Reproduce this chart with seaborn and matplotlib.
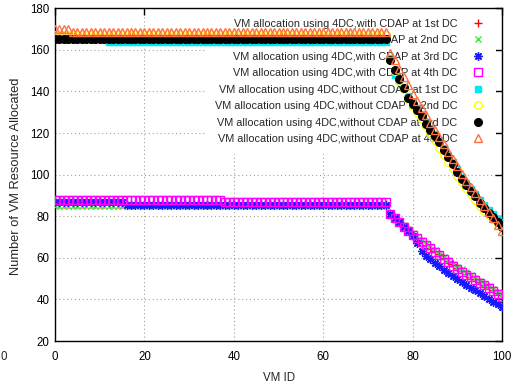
import matplotlib
matplotlib.use('Agg')
import matplotlib.pyplot as plt
import seaborn as sns

# VM IDs 0..100
vm_id = list(range(101))

# with CDAP (flat part x=0..74, then decline x=75..100)
with_1st = [86] * 75 + [81.5, 79.5, 77.5, 75.5, 73.3, 71.3, 69.6, 68, 66.4, 64.8, 63.2, 61.6, 60,
                        58.4, 56.8, 55.2, 53.8, 52.4, 51, 49.7, 48.4, 47.1, 45.8, 44.5, 43.2, 41.9]
with_2nd = [85] * 75 + [80.5, 79, 77.8, 76, 74, 72, 70.2, 68.5, 66.8, 65.2, 63.6, 62, 60.4,
                        58.8, 57.2, 55.8, 54.4, 53, 51.6, 50.2, 48.9, 47.6, 46.3, 45, 43.7, 42.4]
with_3rd = [87] * 16 + [85.5] * 59 + [81, 79, 77, 75, 73, 70.5, 67, 63.5, 61, 59.2, 57.5, 56, 54.3,
                                      52.7, 51.2, 49.6, 48.3, 47, 45.6, 44.3, 43, 41.5, 40, 38.8, 37.6, 36.3]
with_4th = [88] * 38 + [87] * 37 + [81, 79, 77, 75, 73, 71, 69.4, 67.8, 66.2, 64.6, 63, 61.3, 59.6,
                                    57.9, 56.2, 54.5, 53.2, 51.9, 50.6, 49.3, 48, 46.7, 45.4, 44, 42.7, 41.3]

# without CDAP
without_1st = [165] * 12 + [164] * 63 + [156, 148, 145, 142, 138, 135, 132, 129, 125.5, 122.5, 119.5, 116.5, 113,
                                         109.5, 106, 102.5, 99, 96, 93, 90.5, 88, 85.5, 83, 81, 78.5, 77]
without_2nd = [167] * 75 + [155, 150, 145, 141, 136.5, 133, 130, 127, 123.5, 120, 116.5, 113, 109.5,
                            106, 103, 99.5, 96.5, 93.5, 90.5, 88, 85, 82.5, 80.5, 78.5, 76.5, 75]
without_3rd = [165] * 75 + [155, 150.5, 146, 141.5, 137, 134, 131, 128, 124.5, 121.5, 118.5, 115.5, 112,
                            108.5, 105, 101.5, 98, 95, 92, 89.5, 86.5, 84, 81.5, 79.5, 77, 75]
without_4th = [170] * 4 + [168.5] * 71 + [158.5, 155, 151, 147, 143, 139, 135.5, 132, 128.5, 125, 121.5, 118, 114.5,
                                          111, 107.5, 104, 100.5, 97, 94, 91, 88, 85, 82, 79, 76, 73]

labels = ['VM allocation using 4DC,with CDAP at 1st DC',
          'VM allocation using 4DC,with CDAP at 2nd DC',
          'VM allocation using 4DC,with CDAP at 3rd DC',
          'VM allocation using 4DC,with CDAP at 4th DC',
          'VM allocation using 4DC,without CDAP at 1st DC',
          'VM allocation using 4DC,without CDAP at 2nd DC',
          'VM allocation using 4DC,without CDAP at 3rd DC',
          'VM allocation using 4DC,without CDAP at 4th DC']
series = [with_1st, with_2nd, with_3rd, with_4th, without_1st, without_2nd, without_3rd, without_4th]
colors = ['#ff0000', '#33ee33', '#1a1aff', '#ff00ff', '#00e8f0', '#ffff00', '#000000', '#ff6f40']
markers = ['+', 'x', (8, 2, 0), 's', 's', 'o', 'o', '^']
filled = [True, True, True, False, True, False, True, False]
msizes = [6, 5, 6, 5.5, 5, 5.5, 5.5, 5.5]

sns.set_style('white')
plt.rcParams['font.family'] = ['Liberation Sans', 'DejaVu Sans']
fs = 7.8

fig = plt.figure(figsize=(5.12, 3.9), dpi=100)
ax = fig.add_axes([55 / 512, 1 - 341 / 390, 447 / 512, (341 - 8.3) / 390])

for ys, lab, c, m, f, ms in zip(series, labels, colors, markers, filled, msizes):
    sns.lineplot(x=vm_id, y=ys, ax=ax, linestyle='', marker=m, markersize=ms,
                 color=c, markeredgecolor=c, markerfacecolor=c if f else 'none',
                 markeredgewidth=1.0, label=lab, zorder=3)

ax.set_xlim(0, 100)
ax.set_ylim(20, 180)
ax.set_xticks([0, 20, 40, 60, 80, 100])
ax.set_yticks([20, 40, 60, 80, 100, 120, 140, 160, 180])
ax.set_axisbelow(True)
ax.grid(True, color='#a0a0a0', linestyle=(0, (1, 2.5)), linewidth=0.8)
ax.tick_params(direction='in', length=5, width=1, top=True, right=True,
               labelsize=8.3, colors='black')
ax.tick_params(axis='x', pad=7)
ax.tick_params(axis='y', pad=4)
for sp in ax.spines.values():
    sp.set_color('black')
    sp.set_linewidth(1)
ax.set_xlabel('')
ax.set_ylabel('')

leg = ax.legend(loc='upper right', bbox_to_anchor=(0.9865, 1.0), markerfirst=False,
                frameon=True, facecolor='white', edgecolor='none', framealpha=1,
                fontsize=fs, handlelength=1.5, handletextpad=1.1, labelspacing=0.6,
                borderpad=0.95, borderaxespad=0, numpoints=1)
leg.set_zorder(1)

fig.text(279 / 512, 1 - 378 / 390, 'VM ID', ha='center', va='center', fontsize=8.3)
fig.text(16.5 / 512, 1 - 176 / 390, 'Number of VM Resource Allocated', rotation=90,
         ha='center', va='center', fontsize=9.3)
fig.text(0.001, 1 - 357 / 390, '0', ha='left', va='center', fontsize=8.3)

fig.savefig('out.png', dpi=100)
